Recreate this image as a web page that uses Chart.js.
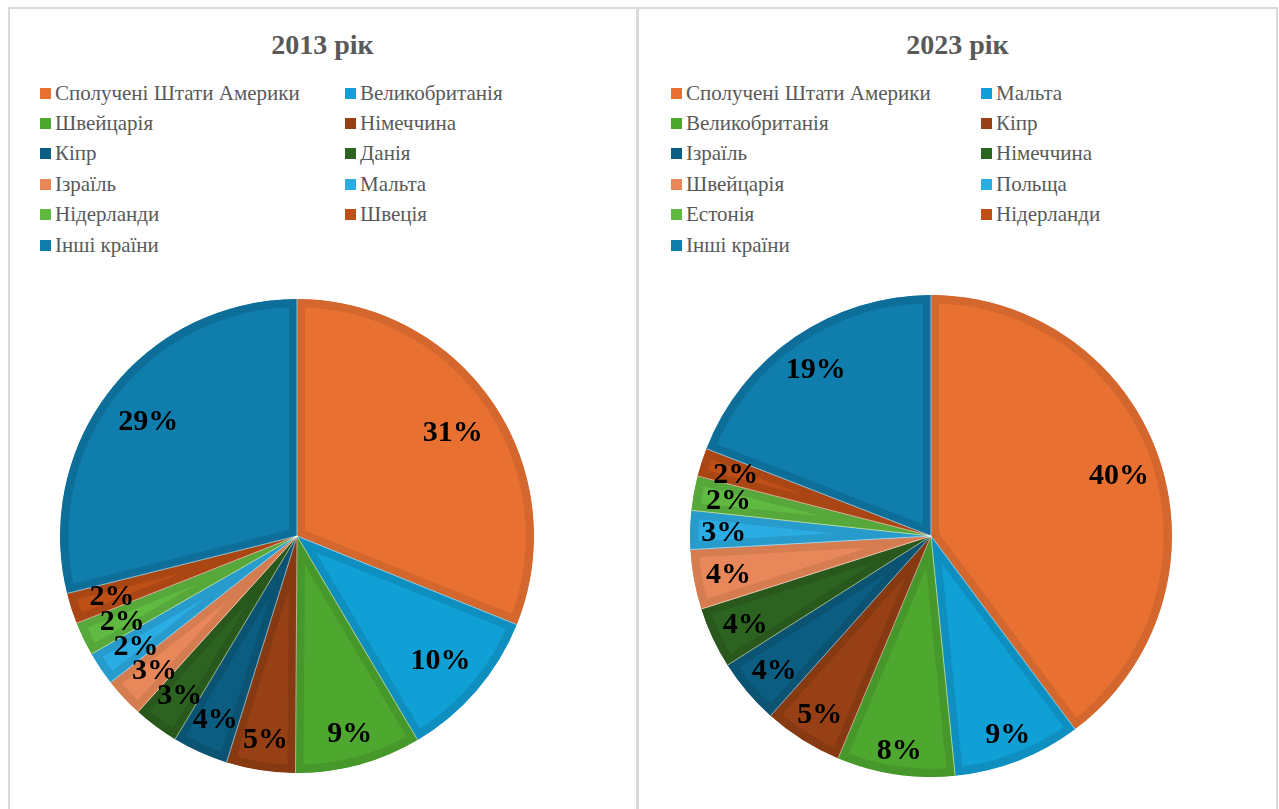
<!DOCTYPE html>
<html><head><meta charset="utf-8">
<script src="https://cdn.jsdelivr.net/npm/chart.js@4.4.1/dist/chart.umd.min.js"></script>
<style>
html,body{margin:0;padding:0;background:#fff;width:1279px;height:809px;overflow:hidden;position:relative;}
.line{position:absolute;background:#D9D9D9;}
.title{position:absolute;text-align:center;font:bold 28px "Liberation Serif","Times New Roman",serif;color:#595959;line-height:30px;}
.leg{position:absolute;font:21px "Liberation Serif","Times New Roman",serif;color:#595959;white-space:nowrap;line-height:24px;height:24px;}
.sw{position:absolute;width:11px;height:11px;}
canvas{position:absolute;}
</style>
</head><body>
<div class="line" style="left:8px;top:7px;width:1270px;height:2px;"></div>
<div class="line" style="left:8px;top:7px;width:2px;height:810px;"></div>
<div class="line" style="left:636px;top:7px;width:3px;height:810px;"></div>
<div class="line" style="left:1276px;top:7px;width:2px;height:810px;"></div>
<div class="title" style="left:8px;width:629px;top:30px;">2013 рік</div>
<div class="title" style="left:638px;width:639px;top:30px;">2023 рік</div>
<div id="leg1"></div>
<div id="leg2"></div>
<canvas id="c1" width="474" height="474" style="left:60px;top:299px;"></canvas>
<canvas id="c2" width="482" height="482" style="left:690px;top:295px;"></canvas>
<script>
// ---- data ----
const countries2013 = ["Сполучені Штати Америки","Великобританія","Швейцарія","Німеччина","Кіпр","Данія","Ізраїль","Мальта","Нідерланди","Швеція","Інші країни"];
const values2013 = [31.1, 10.4, 8.6, 4.7, 3.8, 3.1, 2.7, 2.3, 2.3, 2.1, 28.9];
const countries2023 = ["Сполучені Штати Америки","Мальта","Великобританія","Кіпр","Ізраїль","Німеччина","Швейцарія","Польща","Естонія","Нідерланди","Інші країни"];
const values2023 = [39.8, 8.6, 7.9, 5.3, 4.4, 4.1, 4.0, 2.6, 2.3, 1.9, 19.1];
const fillColors = ["#E87131","#10A0D6","#4EA72E","#974015","#0B5E82","#2D6320","#E8885A","#2BACE2","#60BA41","#BD4F17","#0F7EAC"];
const edgeColors = ["#D3672D","#0E8FC0","#47982A","#873912","#0A5373","#28581C","#D67C51","#279BCB","#56A83A","#A94614","#0D6F99"];

// ---- legend (HTML) ----
function buildLegend(el, names, left, colGap) {
  const rowCenters = [94,124,154,185,215,246];
  let html = "";
  names.forEach((n, i) => {
    const row = Math.floor(i / 2), col = i % 2;
    const x = left + col * colGap;
    const cy = rowCenters[row];
    html += `<div class="sw" style="left:${x}px;top:${cy-6}px;background:${fillColors[i]}"></div>`;
    html += `<div class="leg" style="left:${x+15}px;top:${cy-13}px;">${n}</div>`;
  });
  el.innerHTML = html;
}
buildLegend(document.getElementById("leg1"), countries2013, 40, 305);
buildLegend(document.getElementById("leg2"), countries2023, 671, 310);

// ---- label plugin ----
const pctLabels = {
  id: "pctLabels",
  afterDatasetsDraw(chart, args, opts) {
    const pad = opts.pad || 11;
    const ctx = chart.ctx;
    const meta = chart.getDatasetMeta(0);
    const data = chart.data.datasets[0].data;
    ctx.save();
    // thin light separators
    ctx.strokeStyle = "rgba(255,255,255,0.55)";
    ctx.lineWidth = 1;
    meta.data.forEach(arc => {
      const p = arc.getProps(["startAngle","outerRadius","x","y"], true);
      ctx.beginPath();
      ctx.moveTo(p.x, p.y);
      ctx.lineTo(p.x + Math.cos(p.startAngle) * p.outerRadius, p.y + Math.sin(p.startAngle) * p.outerRadius);
      ctx.stroke();
    });
    ctx.font = 'bold 30px "Liberation Serif", "Times New Roman", serif';
    ctx.fillStyle = "#000";
    ctx.textAlign = "center";
    ctx.textBaseline = "alphabetic";
    meta.data.forEach((arc, i) => {
      const p = arc.getProps(["startAngle","endAngle","outerRadius","x","y"], true);
      const a = (p.startAngle + p.endAngle) / 2;
      const txt = Math.round(data[i]) + "%";
      const w = ctx.measureText(txt).width;
      const h = 22;
      const ext = Math.abs(Math.cos(a)) * w / 2 + Math.abs(Math.sin(a)) * h / 2;
      const d = p.outerRadius - pad - ext;
      ctx.fillText(txt, p.x + Math.cos(a) * d, p.y + Math.sin(a) * d + 10);
    });
    ctx.restore();
  }
};

function makePie(id, labels, values, pad) {
  new Chart(document.getElementById(id), {
    type: "pie",
    data: {
      labels: labels,
      datasets: [{
        data: values,
        backgroundColor: fillColors,
        borderColor: edgeColors,
        borderWidth: 8,
        borderAlign: "inner",
        hoverOffset: 0,
        offset: 0
      }]
    },
    options: {
      responsive: false,
      animation: false,
      events: [],
      layout: { padding: 0 },
      plugins: { legend: { display: false }, tooltip: { enabled: false }, title: { display: false }, pctLabels: { pad: pad } }
    },
    plugins: [pctLabels]
  });
}
makePie("c1", countries2013, values2013, 18);
makePie("c2", countries2023, values2023, 11);
</script>
</body></html>
